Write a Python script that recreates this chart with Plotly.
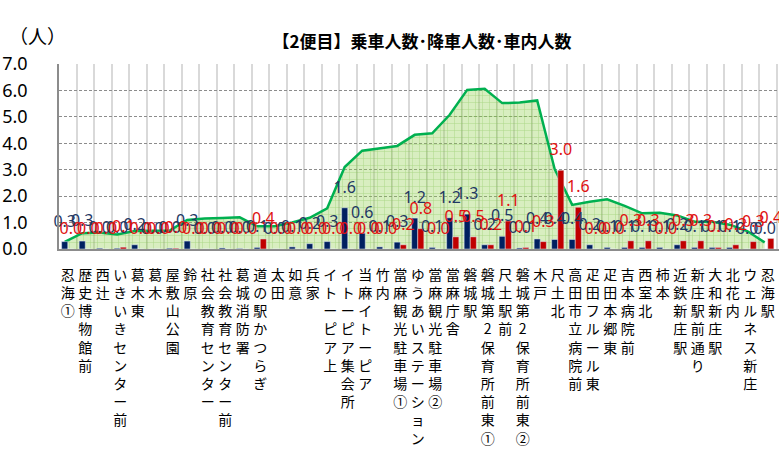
import plotly.graph_objects as go

# ---- data ----
stops = [
    "忍海①", "歴史博物館前", "西辻", "いきいきセンター前", "葛木東", "葛木", "屋敷山公園", "鈴原",
    "社会教育センター", "社会教育センター前", "葛城消防署", "道の駅かつらぎ", "太田", "如意", "兵家",
    "イトーピア上", "イトーピア集会所", "当麻イトーピア", "竹内", "當麻観光駐車場①", "ゆうあいステーション",
    "當麻観光駐車場②", "當麻庁舎", "磐城駅", "磐城第2保育所前東①", "尺土駅前", "磐城第2保育所前東②",
    "木戸", "尺土北", "高田市立病院前", "疋田フルール東", "疋田本郷東", "吉本病院前", "西室北", "柿本",
    "近鉄新庄駅", "新庄駅前通り", "大和新庄駅", "北花内", "ウェルネス新庄", "忍海駅",
]
boarding = [0.28, 0.30, 0.03, 0.03, 0.16, 0.00, 0.03, 0.30, 0.00, 0.04, 0.02, 0.06, 0.00, 0.08,
            0.20, 0.28, 1.56, 0.60, 0.08, 0.26, 1.17, 0.06, 1.18, 1.32, 0.16, 0.48, 0.04, 0.38,
            0.36, 0.36, 0.16, 0.06, 0.06, 0.06, 0.06, 0.16, 0.06, 0.06, 0.06, 0.00, 0.00]
alighting = [0.00, 0.00, 0.00, 0.07, 0.00, 0.00, 0.03, 0.00, 0.00, 0.00, 0.00, 0.38, 0.00, 0.00,
             0.00, 0.00, 0.00, 0.00, 0.00, 0.16, 0.77, 0.00, 0.46, 0.46, 0.16, 1.06, 0.06, 0.28,
             2.98, 1.58, 0.00, 0.00, 0.31, 0.31, 0.00, 0.31, 0.31, 0.06, 0.16, 0.28, 0.40]
onboard = [0.27, 0.60, 0.62, 0.55, 0.68, 0.70, 0.70, 1.10, 1.15, 1.17, 1.20, 0.86, 0.86, 1.00,
           1.18, 1.54, 3.10, 3.72, 3.81, 3.90, 4.32, 4.38, 5.08, 6.02, 6.06, 5.52, 5.54, 5.62,
           3.02, 1.67, 1.79, 1.88, 1.63, 1.35, 1.37, 1.27, 1.03, 1.03, 0.92, 0.68, 0.25]

title_text = "【2便目】乗車人数･降車人数･車内人数"
unit_text = "（人）"

x = ["<br>".join(list(s)) for s in stops]

CJK = "Noto Sans CJK JP"
NAVY = "#002060"
RED = "#C00000"

fig = go.Figure()

fig.add_trace(go.Scatter(
    x=x, y=onboard, name="車内人数", mode="lines", fill="tozeroy",
    line=dict(color="#00B050", width=2.5),
    fillcolor="rgba(146,208,80,0.38)",
    fillpattern=dict(shape="+", fgcolor="rgba(110,185,60,0.40)", bgcolor="rgba(146,208,80,0.36)",
                     size=7, solidity=0.15, fillmode="replace"),
    xaxis="x", yaxis="y", hoverinfo="skip",
))

fig.add_trace(go.Bar(x=x, y=boarding, name="乗車人数", marker_color=NAVY, xaxis="x", yaxis="y2",
                     offsetgroup="b"))
fig.add_trace(go.Bar(x=x, y=alighting, name="降車人数", marker_color=RED, xaxis="x", yaxis="y2",
                     offsetgroup="a"))

fig.add_trace(go.Scatter(
    x=x, y=boarding, mode="markers+text", text=[f"{v:.1f}" for v in boarding],
    textposition="top center", marker=dict(size=16, color="rgba(0,0,0,0)"),
    textfont=dict(family="Noto Sans", size=16, color="#1F3864"),
    xaxis="x", yaxis="y2", offsetgroup="b", cliponaxis=False, hoverinfo="skip",
))
fig.add_trace(go.Scatter(
    x=x, y=alighting, mode="markers+text", text=[f"{v:.1f}" for v in alighting],
    textposition="top center", marker=dict(size=16, color="rgba(0,0,0,0)"),
    textfont=dict(family="Noto Sans", size=16, color="#E01010"),
    xaxis="x", yaxis="y2", offsetgroup="a", cliponaxis=False, hoverinfo="skip",
))

n_vis = 720 / 17.5
fig.update_layout(
    width=779, height=461,
    margin=dict(l=59, r=0, t=64, b=212),
    paper_bgcolor="white", plot_bgcolor="white",
    showlegend=False,
    barmode="group", bargap=0.3, bargroupgap=0,
    scattermode="group", scattergap=0.3,
    title=dict(text=title_text, x=422 / 779, xref="container", xanchor="center",
               y=1 - 42 / 461, yref="container", yanchor="middle",
               font=dict(family=CJK, size=17, color="black", weight="bold")),
    xaxis=dict(
        type="category", range=[-0.5, -0.5 + n_vis], tickson="boundaries",
        showgrid=True, gridcolor="#d9d9d9", gridwidth=2,
        showline=True, linecolor="#8c8c8c", linewidth=2, ticks="",
        tickangle=0, tickfont=dict(family=CJK, size=14, color="black"),
        ticklabelstandoff=12,
    ),
    yaxis=dict(
        range=[0, 7], dtick=1, tickformat=".1f",
        showgrid=True, gridcolor="#8c8c8c", gridwidth=1, griddash="3px,2px",
        showline=True, linecolor="#8c8c8c", linewidth=1.5, zeroline=False, ticks="",
        tickfont=dict(family="Noto Sans", size=18, color="black"),
        ticklabelstandoff=26,
    ),
    yaxis2=dict(range=[0, 7], overlaying="y", visible=False),
    annotations=[dict(text=unit_text, xref="paper", yref="paper",
                      x=(37 - 59) / 720, y=(249 - 35) / 185, showarrow=False,
                      xanchor="center", yanchor="middle",
                      font=dict(family=CJK, size=19, color="black"))],
)

fig.write_html("out.html", config={"displayModeBar": False},
               post_script="document.body.style.margin='0px';")
